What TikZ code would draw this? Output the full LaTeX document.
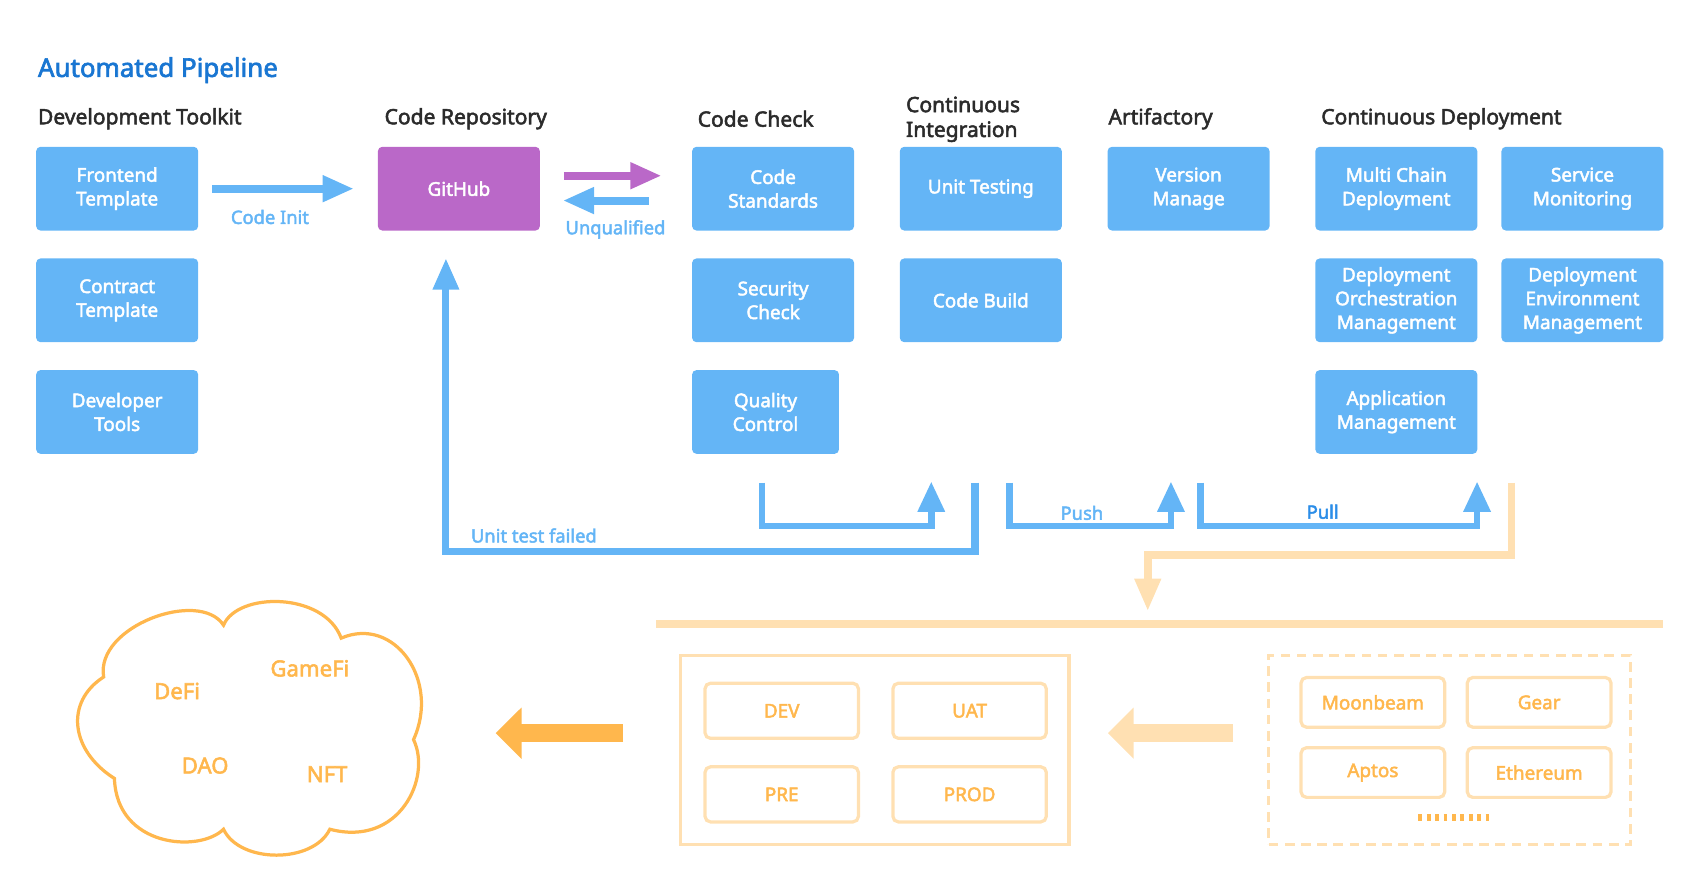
\documentclass[tikz,border=0pt]{standalone}
\usepackage{fontspec}
\setmainfont{Noto Sans}[BoldFont={Noto Sans},BoldFeatures={FakeBold=2.5}]
\usetikzlibrary{arrows.meta,positioning}
\definecolor{boxblue}{HTML}{64B5F6}
\definecolor{gitpurple}{HTML}{BA68C8}
\definecolor{titleblue}{HTML}{1976D2}
\definecolor{pullblue}{HTML}{2B8DE8}
\definecolor{headgray}{HTML}{2B2B2B}
\definecolor{paleorange}{HTML}{FFE0B2}
\definecolor{deeporange}{HTML}{FFB74D}

\begin{document}
\begin{tikzpicture}[x=1pt,y=-1pt,>={Triangle[length=29pt,width=23pt]},node distance=25.5pt,
	tool/.style={rectangle,rounded corners=4pt,fill=boxblue,text=white,minimum width=150pt,minimum height=77.5pt,inner sep=2pt,align=center,font=\fontsize{17.5}{22}\selectfont\bfseries},
	colhead/.style={anchor=west,text=headgray,align=left,inner sep=0pt,font=\fontsize{19.5}{23}\selectfont\bfseries},
	lbl/.style={text=boxblue,inner sep=0pt,font=\fontsize{17}{20}\selectfont\bfseries},
	pipe/.style={->,draw=boxblue,line width=7.5pt},
	uturn/.style={draw=boxblue,line width=6pt,-{Triangle[length=28pt,width=24pt]}},
	pale/.style={draw=paleorange,line width=7pt,-{Triangle[length=30pt,width=23pt]}},
	env/.style={rectangle,rounded corners=5pt,draw=paleorange,line width=3pt,text=deeporange,minimum width=142pt,minimum height=51pt,font=\fontsize{17.5}{22}\selectfont\bfseries},
	net/.style={env,minimum width=133pt,minimum height=46pt},
	web/.style={text=deeporange,inner sep=0pt,font=\fontsize{20.5}{24}\selectfont\bfseries},
	fat/.style={line width=17pt,-{Triangle[length=24pt,width=46pt]}}]
	\useasboundingbox (0,0) rectangle (1568,826);

	\node[colhead,text=titleblue,font=\fontsize{24}{28}\selectfont\bfseries] (T) at (35,65) {Automated Pipeline};
	\node[colhead] (H1) at (35,110) {Development Toolkit};
	\node[colhead] (H2) at (356,110) {Code Repository};
	\node[colhead] (H3) at (646,110) {Code Check};
	\node[colhead] (H4) at (839,110.5) {Continuous\\Integration};
	\node[colhead] (H5) at (1026.5,110) {Artifactory};
	\node[colhead] (H6) at (1223.5,110) {Continuous Deployment};

	\node[tool] (FT) at (108.5,174.75) {Frontend\\Template};
	\node[tool] (CT) [below=of FT] {Contract\\Template};
	\node[tool] (DT) [below=of CT] {Developer\\Tools};
	\node[tool,fill=gitpurple] (GH) at (425,174.75) {GitHub};
	\node[tool] (CS) at (716,174.75) {Code\\Standards};
	\node[tool] (SC) [below=of CS] {Security\\Check};
	\node[tool,minimum width=136pt] (QC) [below=of SC.south west,anchor=north west] {Quality\\Control};
	\node[tool] (UT) [right=42pt of CS] {Unit Testing};
	\node[tool] (CB) [below=of UT] {Code Build};
	\node[tool] (VM) [right=42pt of UT] {Version\\Manage};
	\node[tool] (MC) [right=42pt of VM] {Multi Chain\\Deployment};
	\node[tool] (DO) [below=of MC] {Deployment\\Orchestration\\Management};
	\node[tool] (AM) [below=of DO] {Application\\Management};
	\node[tool] (SM) [right=22pt of MC] {Service\\Monitoring};
	\node[tool] (DE) [below=of SM] {Deployment\\Environment\\Management};

	\node[lbl] (L1) at (250,201) {Code Init};
	\node[lbl] (L2) at (570,212.5) {Unqualified};
	\node[lbl,anchor=west] (L3) at (436,496) {Unit test failed};
	\node[lbl] (L4) at (1002,475) {Push};
	\node[lbl,text=pullblue] (L5) at (1225,474) {Pull};

	\path (FT) edge[pipe,shorten <=13pt,shorten >=22pt] (GH);
	\draw[pipe,draw=gitpurple,shorten <=22pt,shorten >=28pt] ([yshift=12pt]GH.east) -- ([yshift=12pt]GH.east -| CS.west);
	\draw[pipe,shorten <=40pt,shorten >=21pt] ([yshift=-11pt]CS.west) -- ([yshift=-11pt]CS.west -| GH.east);

	\coordinate (QCo) at (705.5,447);
	\coordinate (UTi) at (862.5,446);
	\coordinate (CBo) at (935,447);
	\coordinate (VMi) at (1084.5,446);
	\coordinate (VMo) at (1112,447);
	\coordinate (MCi) at (1368,446);
	\coordinate (FAo) at (903,447);
	\coordinate (DEo) at (1400,447);
	\coordinate (BUS) at (1063,566);
	\coordinate (WEB) at (459,679);

	\draw[uturn] (QCo) -- ++(0,40) -| (UTi);
	\draw[uturn] (CBo) -- ++(0,40) -| (VMi);
	\draw[uturn] (VMo) -- ++(0,40) -| (MCi);
	\draw[pipe,line width=6.5pt,shorten >=25.5pt] (FAo) -- ++(0,64) -| ([xshift=-12pt]GH.south);
	\draw[pale] (DEo) -- ++(0,67) -| (BUS);
	\draw[paleorange,line width=7pt] (608,578) -- (1540,578);

	\node[draw=paleorange,line width=3pt,minimum width=360pt,minimum height=175pt] (ENV) at (810,694.5) {};
	\node[env] (DEV) at (724,658.3) {DEV};
	\node[env] (UAT) [right=29pt of DEV] {UAT};
	\node[env] (PRE) [below=23.4pt of DEV] {PRE};
	\node[env] (PROD) [right=29pt of PRE] {PROD};

	\node[draw=paleorange,line width=3pt,dash pattern=on 9pt off 6pt,minimum width=335pt,minimum height=175pt] (CHN) at (1342.5,694.5) {};
	\node[net] (MB) at (1271.5,650.5) {Moonbeam};
	\node[net] (GE) [right=18pt of MB] {Gear};
	\node[net] (AP) [below=16pt of MB] {Aptos};
	\node[net] (ET) [right=18pt of AP] {Ethereum};
	\draw[deeporange,line width=7pt,dash pattern=on 3.5pt off 4.3pt] (1313.6,757.3) -- (1382.6,757.3);

	\draw[fat,draw=paleorange,shorten <=31.5pt,shorten >=34.5pt] ([yshift=15.5pt]CHN.west) -- ([yshift=15.5pt]ENV.east);
	\draw[fat,draw=deeporange,shorten <=51.5pt] ([yshift=15.5pt]ENV.west) -- (WEB);

	\draw[deeporange,line width=3pt] (96,627) .. controls (88,580) and (185,545) .. (207,579)
		.. controls (220,548) and (300,548) .. (316,591)
		.. controls (365,570) and (408,630) .. (383,685)
		.. controls (400,720) and (370,785) .. (305.5,768)
		.. controls (290,800) and (222,800) .. (207,768)
		.. controls (185,790) and (108,785) .. (106,721)
		.. controls (65,695) and (60,650) .. cycle;
	\node[web] (DF) at (164,640) {DeFi};
	\node[web] (GF) at (287,619) {GameFi};
	\node[web] (DA) at (190,709) {DAO};
	\node[web] (NF) at (303,717) {NFT};
\end{tikzpicture}
\end{document}
